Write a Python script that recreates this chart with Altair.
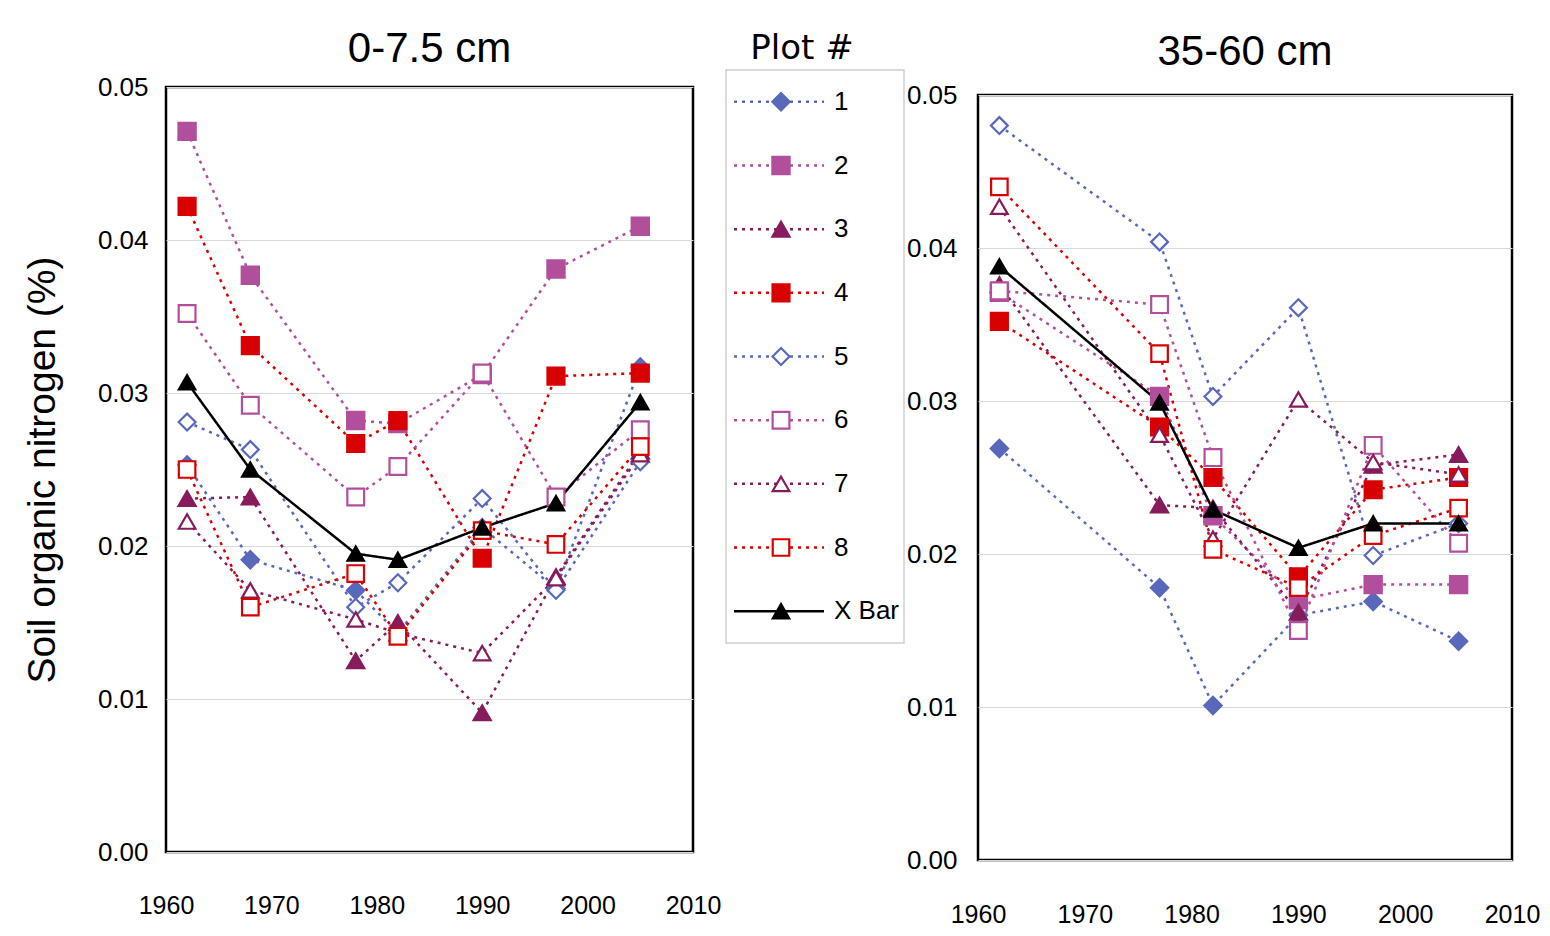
import altair as alt
import pandas as pd

SANS = "Liberation Sans, Arial, sans-serif"

plots = ["1", "2", "3", "4", "5", "6", "7", "8", "X Bar"]
colors = ["#5a68bb", "#b24f9c", "#861c5c", "#d80000",
          "#5a68bb", "#b24f9c", "#861c5c", "#d80000", "#000000"]
fills = ["#5a68bb", "#b24f9c", "#861c5c", "#d80000",
         "#ffffff", "#ffffff", "#ffffff", "#ffffff", "#000000"]
shapes = ["diamond", "square", "triangle-up", "square",
          "diamond", "square", "triangle-up", "square", "triangle-up"]
sizes = [300, 270, 300, 270, 280, 250, 270, 250, 560]
dashes = [[3, 5]] * 8 + [[1, 0]]

# 0-7.5 cm
years_top = [1962, 1968, 1978, 1982, 1990, 1997, 2005]
top_p1 = [0.0253, 0.0191, 0.0171, 0.0143, 0.0212, 0.0172, 0.0317]
top_p2 = [0.0471, 0.0377, 0.0282, 0.0280, 0.0312, 0.0381, 0.0409]
top_p3 = [0.0231, 0.0232, 0.0125, 0.0150, 0.0091, 0.0180, 0.0262]
top_p4 = [0.0422, 0.0331, 0.0267, 0.0282, 0.0192, 0.0311, 0.0313]
top_p5 = [0.0281, 0.0263, 0.0160, 0.0176, 0.0231, 0.0171, 0.0255]
top_p6 = [0.0352, 0.0292, 0.0232, 0.0252, 0.0313, 0.0232, 0.0276]
top_p7 = [0.0216, 0.0171, 0.0152, 0.0143, 0.0130, 0.0179, 0.0260]
top_p8 = [0.0250, 0.0160, 0.0182, 0.0141, 0.0210, 0.0201, 0.0265]
top_xbar = [0.0307, 0.0250, 0.0195, 0.0191, 0.0212, 0.0228, 0.0294]

# 35-60 cm
years_deep = [1962, 1977, 1982, 1990, 1997, 2005]
deep_p1 = [0.0269, 0.0178, 0.0101, 0.0160, 0.0169, 0.0143]
deep_p2 = [0.0371, 0.0303, 0.0225, 0.0170, 0.0180, 0.0180]
deep_p3 = [0.0376, 0.0232, 0.0230, 0.0162, 0.0258, 0.0265]
deep_p4 = [0.0352, 0.0283, 0.0250, 0.0185, 0.0242, 0.0250]
deep_p5 = [0.0480, 0.0404, 0.0303, 0.0361, 0.0199, 0.0220]
deep_p6 = [0.0372, 0.0363, 0.0263, 0.0150, 0.0271, 0.0207]
deep_p7 = [0.0427, 0.0278, 0.0210, 0.0301, 0.0260, 0.0252]
deep_p8 = [0.0440, 0.0331, 0.0203, 0.0178, 0.0212, 0.0230]
deep_xbar = [0.0388, 0.0299, 0.0229, 0.0204, 0.0220, 0.0220]

x_ticks = [1960, 1970, 1980, 1990, 2000, 2010]
y_ticks = [0.00, 0.01, 0.02, 0.03, 0.04, 0.05]


def long_frame(years, series):
    rows = []
    for name, vals in zip(plots, series):
        for yr, v in zip(years, vals):
            rows.append({"year": yr, "value": v, "plot": name})
    return pd.DataFrame(rows)


df_top = long_frame(years_top, [top_p1, top_p2, top_p3, top_p4, top_p5,
                                top_p6, top_p7, top_p8, top_xbar])
df_deep = long_frame(years_deep, [deep_p1, deep_p2, deep_p3, deep_p4, deep_p5,
                                  deep_p6, deep_p7, deep_p8, deep_xbar])

col_scale = alt.Scale(domain=plots, range=colors)
fill_scale = alt.Scale(domain=plots, range=fills)
shape_scale = alt.Scale(domain=plots, range=shapes)
size_scale = alt.Scale(domain=plots, range=sizes)
dash_scale = alt.Scale(domain=plots, range=dashes)


def panel(df, title, ytitle, title_offset, xlab_pad, ylab_pad, width):
    x = alt.X("year:Q", scale=alt.Scale(domain=[1960, 2010], nice=False, zero=False),
              axis=alt.Axis(values=x_ticks, format="d", title=None, grid=False,
                            ticks=False, domain=False, labelFont=SANS,
                            labelFontSize=25, labelColor="black", labelFlush=False,
                            labelPadding=xlab_pad))
    yaxis = dict(values=y_ticks, format=".2f", grid=True,
                 gridColor="#d9d9d9", gridWidth=1.2,
                 ticks=False, domain=False, labelFont=SANS,
                 labelFontSize=26, labelColor="black",
                 labelPadding=ylab_pad)
    if ytitle:
        yaxis.update(title=ytitle, titleFont=SANS, titleFontSize=39,
                     titleFontWeight="normal", titleColor="black", titlePadding=35)
    else:
        yaxis.update(title=None)
    y = alt.Y("value:Q", scale=alt.Scale(domain=[0, 0.05], nice=False),
              axis=alt.Axis(**yaxis))
    base = alt.Chart(df)
    lines = base.mark_line(strokeWidth=2.5).encode(
        x=x, y=y,
        color=alt.Color("plot:N", scale=col_scale, legend=None),
        strokeDash=alt.StrokeDash("plot:N", scale=dash_scale, legend=None),
    )
    pts = base.mark_point(opacity=1, fillOpacity=1, strokeWidth=2.2).encode(
        x=x, y=y,
        shape=alt.Shape("plot:N", scale=shape_scale, legend=None),
        fill=alt.Fill("plot:N", scale=fill_scale, legend=None),
        stroke=alt.Stroke("plot:N", scale=col_scale, legend=None),
        size=alt.Size("plot:N", scale=size_scale, legend=None),
    )
    return alt.layer(lines, pts).properties(
        width=width, height=765,
        title=alt.TitleParams(title, font=SANS, fontSize=42, fontWeight="normal",
                              color="black", anchor="middle", offset=title_offset),
        view=alt.ViewBackground(stroke="black", strokeWidth=2.5),
    )


def spacer(h):
    return alt.Chart(pd.DataFrame({"s": [0]})).mark_point(opacity=0).encode(
        x=alt.value(0), y=alt.value(0)
    ).properties(width=1, height=h,
                 view=alt.ViewBackground(strokeOpacity=0, fillOpacity=0))


left = panel(df_top, "0-7.5 cm", "Soil organic nitrogen (%)", 3, 41, 18, 527)
right = panel(df_deep, "35-60 cm", None, 8, 42, 21, 534)

leg_df = pd.DataFrame({"plot": plots})
ly = alt.Y("plot:N", sort=plots, axis=None, scale=alt.Scale(type="point", padding=0.5))
leg_lines = alt.Chart(leg_df).mark_rule(strokeWidth=2.5).encode(
    y=ly, x=alt.value(8), x2=alt.value(98),
    color=alt.Color("plot:N", scale=col_scale, legend=None),
    strokeDash=alt.StrokeDash("plot:N", scale=dash_scale, legend=None),
)
leg_pts = alt.Chart(leg_df).mark_point(opacity=1, fillOpacity=1, strokeWidth=2.2).encode(
    y=ly, x=alt.value(55),
    shape=alt.Shape("plot:N", scale=shape_scale, legend=None),
    fill=alt.Fill("plot:N", scale=fill_scale, legend=None),
    stroke=alt.Stroke("plot:N", scale=col_scale, legend=None),
    size=alt.Size("plot:N", scale=size_scale, legend=None),
)
leg_txt = alt.Chart(leg_df).mark_text(align="left", baseline="middle", font=SANS,
                                      fontSize=26, color="black").encode(
    y=ly, x=alt.value(108), text="plot:N")
legend = alt.layer(leg_lines, leg_pts, leg_txt).properties(
    width=178, height=573,
    title=alt.TitleParams("Plot #", font="DejaVu Sans", fontSize=34, fontWeight="normal",
                          color="black", anchor="middle", dx=-13, offset=4),
    view=alt.ViewBackground(stroke="#cfcfcf", strokeWidth=1.5),
)

col_left = alt.vconcat(spacer(11), left, spacing=0)
col_leg = alt.vconcat(spacer(16), legend, spacing=0)
col_right = alt.vconcat(spacer(14), right, spacing=0)

chart = alt.hconcat(col_left, col_leg, col_right, spacing=0).configure(
    background="white", padding={"left": 14, "top": 4, "right": 0, "bottom": 0}
)

chart.save("out.html", embed_options={"renderer": "svg", "actions": False})
